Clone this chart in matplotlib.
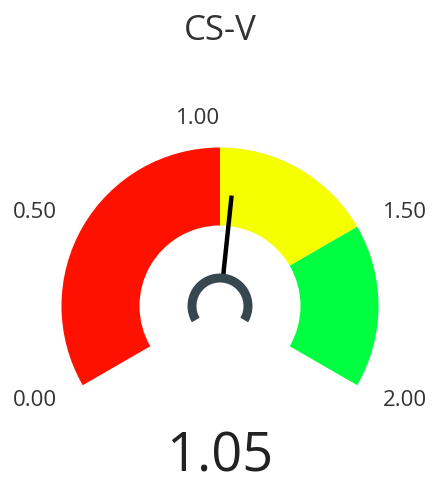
import numpy as np
import matplotlib
matplotlib.use("Agg")
import matplotlib.pyplot as plt
from matplotlib.patches import Wedge

# ---- data ----
title = "CS-V"
value = 1.05
vmin, vmax = 0.0, 2.0
band_edges = [0.0, 1.0, 1.5, 2.0]
band_colors = ["#FF1100", "#F5FF00", "#00FF40"]
tick_values = [0.0, 0.5, 1.0, 1.5, 2.0]
tick_labels = ["0.00", "0.50", "1.00", "1.50", "2.00"]

# ---- geometry (pixel units, centre of gauge at origin) ----
start_deg, span_deg = 210.0, 240.0
R_out, R_in = 158.5, 80.5
def ang(v):
    return start_deg - span_deg * (v - vmin) / (vmax - vmin)

fig = plt.figure(figsize=(4.32, 4.85), dpi=100)
ax = fig.add_axes([0, 0, 1, 1])
ax.set_xlim(-220, 212)
ax.set_ylim(-178, 307)
ax.axis("off")

for lo, hi, c in zip(band_edges[:-1], band_edges[1:], band_colors):
    ax.add_patch(Wedge((0, 0), R_out, ang(hi), ang(lo), width=R_out - R_in,
                       facecolor=c, edgecolor="none"))

# needle
a = np.radians(ang(value))
ax.plot([32 * np.cos(a), 111 * np.cos(a)], [32 * np.sin(a), 111 * np.sin(a)],
        color="black", lw=3.2, solid_capstyle="butt", zorder=5)
# pivot ring
ax.add_patch(Wedge((0, 0), 32.5, ang(vmax), ang(vmin), width=9,
                   facecolor="#37474F", edgecolor="none", zorder=6))

# tick labels
font = "Open Sans"
for v, lab in zip(tick_values, tick_labels):
    t = np.radians(ang(v))
    x, y = 188 * np.cos(t), 188 * np.sin(t)
    ha = "left" if np.cos(t) > 1e-6 else "right"
    ax.text(x, y, lab, ha=ha, va="center", fontsize=16, color="#333333",
            family=font)

ax.text(0, 276, title, ha="center", va="center", fontsize=25, color="#333333",
        family=font)
ax.text(0, -165, f"{value:.2f}", ha="center", va="baseline", fontsize=39,
        color="#222222", family=font)

fig.savefig("out.png", dpi=100)
